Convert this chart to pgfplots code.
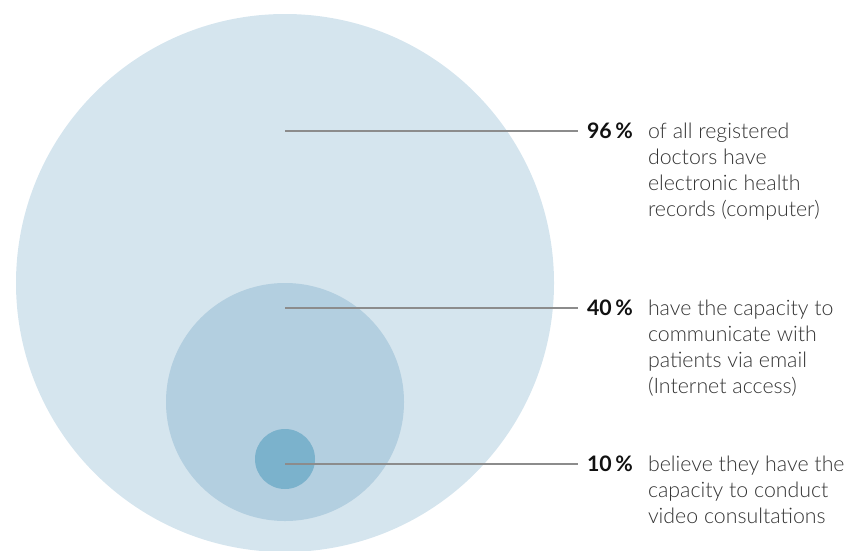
\documentclass[border=0pt]{standalone}
\usepackage{pgfplots}
\pgfplotsset{compat=1.18}
\usepackage{pgfplotstable}
\usepackage{fontspec}
\setmainfont{Lato}[UprightFont={* Light}, BoldFont={* Bold}]
\definecolor{cbig}{HTML}{D5E5EE}
\definecolor{cmid}{HTML}{B3CFE0}
\definecolor{csmall}{HTML}{7BB2CC}
\definecolor{linegray}{HTML}{8C8C8C}
\definecolor{txt}{HTML}{333333}
\definecolor{num}{HTML}{111111}
\begin{document}
\begin{tikzpicture}
\begin{axis}[
  scale only axis, width=644.25pt, height=412.5pt,
  xmin=0, xmax=859, ymin=0, ymax=550, y dir=reverse,
  axis line style={draw=none}, ticks=none, clip=true, clip marker paths=true,
]
% circles: centre x, centre y, radius (px); value in %
\addplot[scatter, only marks, mark=*, point meta=explicit,
  mark options={draw opacity=0, fill=cbig},
  scatter/use mapped color={draw opacity=0, fill=cbig},
  visualization depends on={0.75*\thisrow{r} \as \rad},
  scatter/@pre marker code/.append style={/tikz/mark size=\rad pt}]
  table[x=x, y=y, meta=v] {
x y r v
285 283 269 96
};
\addplot[scatter, only marks, mark=*, point meta=explicit,
  mark options={draw opacity=0, fill=cmid},
  scatter/use mapped color={draw opacity=0, fill=cmid},
  visualization depends on={0.75*\thisrow{r} \as \rad},
  scatter/@pre marker code/.append style={/tikz/mark size=\rad pt}]
  table[x=x, y=y, meta=v] {
x y r v
285 402 119 40
};
\addplot[scatter, only marks, mark=*, point meta=explicit,
  mark options={draw opacity=0, fill=csmall},
  scatter/use mapped color={draw opacity=0, fill=csmall},
  visualization depends on={0.75*\thisrow{r} \as \rad},
  scatter/@pre marker code/.append style={/tikz/mark size=\rad pt}]
  table[x=x, y=y, meta=v] {
x y r v
285 459 30 10
};
% leader lines
\addplot[linegray, line width=1.1pt, no marks] coordinates {(285,131) (578,131)};
\addplot[linegray, line width=1.1pt, no marks] coordinates {(285,308) (578,308)};
\addplot[linegray, line width=1.1pt, no marks] coordinates {(285,464) (578,464)};
% labels
\begin{scope}[every node/.style={inner sep=0pt, outer sep=0pt, anchor=base west, font=\fontsize{16pt}{19pt}\selectfont}]
\node[text=num] at (axis cs:587,138) {\textbf{96\,\%}};
\node[text=txt] at (axis cs:648,138) {of all registered};
\node[text=txt] at (axis cs:648,164) {doctors have};
\node[text=txt] at (axis cs:648,190) {electronic health};
\node[text=txt] at (axis cs:648,216) {records (computer)};
\node[text=num] at (axis cs:587,315) {\textbf{40\,\%}};
\node[text=txt] at (axis cs:648,315) {have the capacity to};
\node[text=txt] at (axis cs:648,341) {communicate with};
\node[text=txt] at (axis cs:648,367) {patients via email};
\node[text=txt] at (axis cs:648,393) {(Internet access)};
\node[text=num] at (axis cs:587,471) {\textbf{10\,\%}};
\node[text=txt] at (axis cs:648,471) {believe they have the};
\node[text=txt] at (axis cs:648,497) {capacity to conduct};
\node[text=txt] at (axis cs:648,523) {video consultations};
\end{scope}
\end{axis}
\pgfresetboundingbox
\path (current axis.south west) rectangle (current axis.north east);
\end{tikzpicture}
\end{document}
